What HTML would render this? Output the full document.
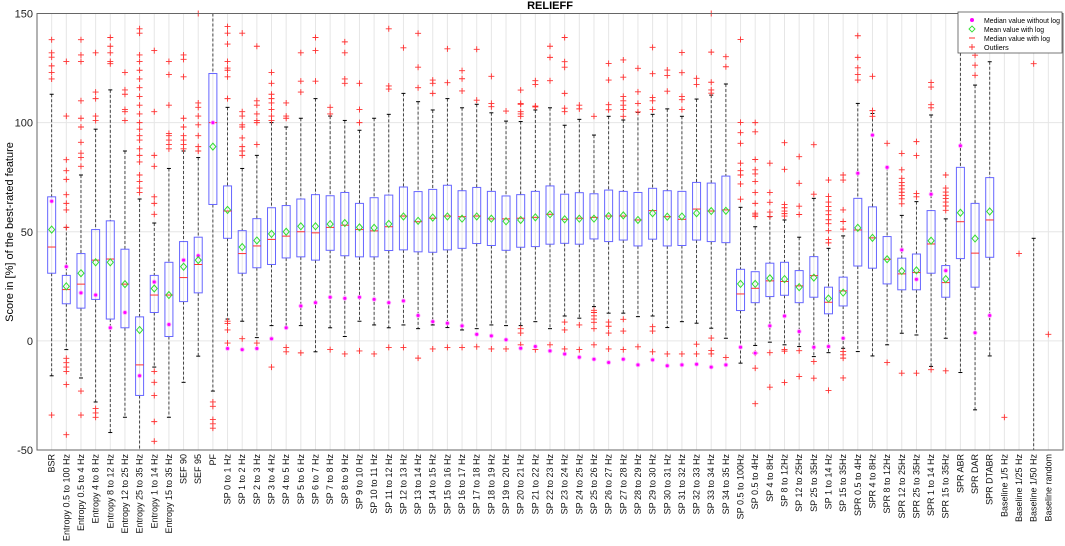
<!DOCTYPE html>
<html><head><meta charset="utf-8"><style>
body{margin:0;background:#fff;}
svg{display:block;font-family:"Liberation Sans",Arial,sans-serif;}
</style></head><body>
<svg id="chart" width="1065" height="546" viewBox="0 0 1065 546" xmlns="http://www.w3.org/2000/svg">
<text x="550" y="9" font-size="11" font-weight="bold" text-anchor="middle">RELIEFF</text>
<text transform="translate(13,232) rotate(-90)" font-size="11" text-anchor="middle">Score in [%] of the best-rated feature</text>
<g id="grid"></g><g id="marks"></g><g id="axes"></g>
<g>
<rect x="958" y="12" width="104" height="41" fill="#fff" stroke="#555" stroke-width="0.8"/>
<circle cx="972" cy="20" r="2" fill="#ff00ff"/>
<text x="984" y="23" font-size="7.2" textLength="76" lengthAdjust="spacingAndGlyphs">Median value without log</text>
<path d="M972 26 L975 29 L972 32 L969 29 Z" fill="none" stroke="#33dd33" stroke-width="0.9"/>
<text x="984" y="32" font-size="7.2" textLength="60" lengthAdjust="spacingAndGlyphs">Mean value with log</text>
<line x1="969" y1="38" x2="975" y2="38" stroke="#ff3030" stroke-width="1"/>
<text x="984" y="41" font-size="7.2" textLength="66" lengthAdjust="spacingAndGlyphs">Median value with log</text>
<path d="M969 47 h6 M972 44 v6" stroke="#ff3030" stroke-width="0.9"/>
<text x="984" y="50" font-size="7.2">Outliers</text>
</g>
</svg>
<script>
const categories=["BSR","Entropy 0.5 to 100 Hz","Entropy 0.5 to 4 Hz","Entropy 4 to 8 Hz","Entropy 8 to 12 Hz","Entropy 12 to 25 Hz","Entropy 25 to 35 Hz","Entropy 1 to 14 Hz","Entropy 15 to 35 Hz","SEF 90","SEF 95","PF","SP 0 to 1 Hz","SP 1 to 2 Hz","SP 2 to 3 Hz","SP 3 to 4 Hz","SP 4 to 5 Hz","SP 5 to 6 Hz","SP 6 to 7 Hz","SP 7 to 8 Hz","SP 8 to 9 Hz","SP 9 to 10 Hz","SP 10 to 11 Hz","SP 11 to 12 Hz","SP 12 to 13 Hz","SP 13 to 14 Hz","SP 14 to 15 Hz","SP 15 to 16 Hz","SP 16 to 17 Hz","SP 17 to 18 Hz","SP 18 to 19 Hz","SP 19 to 20 Hz","SP 20 to 21 Hz","SP 21 to 22 Hz","SP 22 to 23 Hz","SP 23 to 24 Hz","SP 24 to 25 Hz","SP 25 to 26 Hz","SP 26 to 27 Hz","SP 27 to 28 Hz","SP 28 to 29 Hz","SP 29 to 30 Hz","SP 30 to 31 Hz","SP 31 to 32 Hz","SP 32 to 33 Hz","SP 33 to 34 Hz","SP 34 to 35 Hz","SP 0.5 to 100Hz","SP 0.5 to 4Hz","SP 4 to 8Hz","SP 8 to 12Hz","SP 12 to 25Hz","SP 25 to 35Hz","SP 1 to 14 Hz","SP 15 to 35Hz","SPR 0.5 to 4Hz","SPR 4 to 8Hz","SPR 8 to 12Hz","SPR 12 to 25Hz","SPR 25 to 35Hz","SPR 1 to 14 Hz","SPR 15 to 35Hz","SPR ABR","SPR DAR","SPR DTABR","Baseline 1/5 Hz","Baseline 1/25 Hz","Baseline 1/50 Hz","Baseline random"];
const q1=[31,17,15,19,10,6,-25,13,2,18,22,62.5,47,31,33.5,35,38,38.5,37,41.5,39,38.5,38.5,41.4,41.7,40.8,40.6,41.7,42.4,44.6,43.7,41.5,42.9,43.2,44.3,44.7,44.3,46.7,45.5,46.2,43.5,46.6,43.5,43.7,46.2,45.5,45,13.9,17.5,20.3,20.9,17.5,20,12.4,16,34.3,33.3,26.1,23.4,23.4,31,20,37.7,24.6,38.3,null,null,null,null];
const med=[43,23.5,26,37,37.5,26,-11,21,21,29,35,100,59.5,40,43.5,46.5,48,50,49.5,52,53,51,50.4,52.3,57.2,54.6,56.2,57.2,56.9,57.2,55.9,55.9,56.2,56.6,58,55.7,56.2,56.6,57.2,57.2,55.4,59.7,56.9,55.7,60.4,59.5,60,21.5,24.1,27.5,27.2,25.2,29.9,17.7,22.9,50.8,47.2,37.4,30.7,31.3,44.4,26.7,54.6,40.2,55.4,null,null,null,null];
const q3=[66,30,40,51,55,42,11,30,36,45.5,47.5,122.5,71,50.5,56,61,62,65,67,66.5,68,63,65.6,66.8,70.5,68.4,69.4,71.3,68.8,70.3,68.5,66.4,67,68.5,71,67.2,67.9,67.4,69.1,68.5,68,69.9,68.8,68.5,72.6,72.3,75.5,32.8,31.7,35.6,36,32.2,38.6,24.6,29.2,65.3,61.4,47.8,37.9,39.8,59.7,34.5,79.5,63,74.8,null,null,null,null];
const whiskerLow=[-16,-4,-17,-28,-42,-35,-50,-12,-35,-19,-7,-23,10,9,1.5,7,6,7,-5,6,2,9,7.3,6,7.3,5.6,7.3,6.1,5,5.6,7.3,7,7,8.8,5.6,11.4,10.4,15.7,12.7,12.7,11.1,11.4,6.1,8.8,8.1,5.8,1.2,-10.2,-2.1,-0.6,-1.8,-2.6,-7.2,-5.4,-3.4,-4.9,-6.9,-1.8,3.5,2.7,-11.7,1.2,-14.5,-31.6,-6.9,null,null,-50,null];
const whiskerHigh=[113,52,76,97,115,87,65,54,79,87,84,150,107,79,85,100,98,102,111,103,101,96.5,102,103.8,113.4,109.6,105.8,111,106.8,108.4,104.5,100.7,100.5,105.8,106.8,98.8,101.5,94.3,102.9,101.2,104.7,103.8,106.3,102.9,110.8,112.6,117.7,61.2,52.3,56.9,55.4,47.5,65.3,42.4,48.1,108.8,104.2,79.5,57.5,63.8,103.5,55.9,148,117.2,127.9,null,null,47,null];
const meanLog=[51,25,31,36,36,26,5,24,21,34,37,89,60,43,46,49,50,52.5,52.5,53.5,54,52,51.8,53.6,57,55,56.5,57,56,57,56,54.8,55.4,56.6,58,55.7,56,56,57.2,57.5,55.4,58.5,56.9,57,58.5,59.5,59.6,26.1,26.1,28.7,28.3,24.6,29,19.4,22.1,51.8,47.2,37.4,32,32.3,45.9,28.3,58.7,46.9,59.3,null,null,null,null];
const medianNoLog=[64,34,22,21,6,13,-16,27,7.5,37,39,100,-3.5,-4,-3.5,1,6,16,17.5,20,19.5,20,19,17.5,18.3,11.6,8.8,8.1,6.9,3,2.3,0.5,-3.4,-2.6,-4.6,-6,-7.5,-8.4,-9.9,-8.4,-11,-8.7,-11.4,-11,-10.7,-12,-11,-2.9,-5.6,6.9,11.4,4.3,-2.9,-2.6,1.2,76.8,94.3,79.5,41.7,28.2,67.2,32.2,89.4,3.7,11.6,null,null,null,null];
const outliers=[[138,132,130,126,123,120,-34],[128,103,83,78,74,67,63,60,52,-8,-10,-12,-14,-20,-43],[138,131,128,110,102,98,91,86,84,80,-23,-34],[132,114,111,103,101,-31,-33,-35],[139,135,132,128,127],[123,115,113,106,105,101],[143,141,131,128,124,120,116,112,108,104,100,97,94,92,88,85,82,76,73,70,68],[133,105,85,80,66,63,58,-14,-19,-25,-37,-46],[128,122,108,95,94,92,90,88],[131,129,121,102,98,94,92,90,88],[150,109,107,103,99,94,89,87],[-28,-30,-36,-38,-40],[144,141,136,128,125,124,121,111,9,8,5,-1],[141,105,103,99,98,93,89,87,85,1],[135,110,108,104,101,100,90,-1],[123,118,113,111,109,106,103,101,-12],[109,103,102,-3,-5],[132,119,114,-5.5],[139,133,119],[107,104,-4],[137,132,120,118,-6],[118,106,100,-4.6],[-6],[143,116.8,115.4,-3],[134.3,-3],[140.9,125.4,116,-7.9],[119.5,118,113.4,-3.7],[133.8,118.3,-3],[123.8,120.1,114.5,-3],[133.6,110.3,-2.7],[121.2,108.8,107.3,-3.7],[105.3,-3.7],[114.9,108.8,108.4,105,104,102.9,5.6,3.6,-1.8],[119.2,117.5,107.6,107.2,-4],[135,129.9,119.2,-1.8],[139,127.9,125.4,113.4,106.6,105,8.6,5,-3.7],[108,106.3,7.3,-4],[102.9,14,13,11.5,10,8.5,5.6,-1.8],[127.1,119.5,108.2,105.9,8.6,6.7,3.6,-3.7],[128.7,120.8,112,110,108,106,102.9,9.9,4.5,-4],[124.9,114.1,108.8,104.9,-2.7],[134.5,122.4,111.5,110,106,6.5,4.5,-5],[124.1,121.6,114.4,-6],[132.1,122.9,112,110.5,106,-6],[120.3,117.5,-1.5,-6],[150,132.3,118.5,115,113.5,1.3,-4.4,-6],[130.2,125.6,-7.6],[138.1,100.1,95.4,90.5,81.4,78,76,71.9,64.9],[100,95.8,83.1,78.4,76.5,73,68,63,58.5,57.7,57,-5.6,-12.5,-28.8],[81.4,68,63.5,59,57,-5.4,-21.2],[90.8,78.6,62.5,61,59.5,58.3,57.2,-4,-4.7,-19.1],[84.4,72.2,61.7,57.9,-4.5,-16.3],[89.9,67.2,-9.5,-17.1],[73.7,66.2,63.6,61.6,59.6,57.8,55.5,53.7,50.5,46.4,44.9,-22.7],[76,73.7,60,54.7,51.2,-4.9,-6.4,-7.9,-17],[139.8,129.9,125.1,122.1,119.5],[121.2,105.5,102.9],[90.5,-9.9],[85.9,78.4,74.5,72.6,71.1,69.6,68.1,66.6,65.1,62.8,-14.8],[91.3,84.9,67.5,66,-14.8],[118.4,116.3,108.2,106.8,-13.2],[76,70,68.2,66.7,65.2,63.6,61.8,59.8,-13.7],[],[135,130.9,126.3,121.7],[],[-35],[40],[127],[3]];
const yTicks=[150,100,50,0,-50];

const NS="http://www.w3.org/2000/svg";
const L=37,R=1063,T=13.5,B=450,YMIN=-50,YMAX=150;
const n=categories.length;
const step=(R-L)/(n+1);
function xs(i){return L+(i+1)*step;}
function ys(v){return B-(v-YMIN)/(YMAX-YMIN)*(B-T);}
function mk(tag,attrs,parent){const e=document.createElementNS(NS,tag);for(const k in attrs)e.setAttribute(k,attrs[k]);parent.appendChild(e);return e;}
const grid=document.getElementById('grid'),marks=document.getElementById('marks'),axes=document.getElementById('axes');

for(let i=0;i<n;i++){
  const g=mk('line',{x1:xs(i),x2:xs(i),y1:T,y2:B,stroke:'#e6e6e6','stroke-width':1},grid);
  
  
}
yTicks.forEach(t=>{
  const g=mk('line',{x1:L,x2:R,y1:ys(t),y2:ys(t),stroke:'#e6e6e6','stroke-width':1},grid);
  
  
  const tx=mk('text',{x:L-4,y:ys(t)+4,'font-size':11,'text-anchor':'end',fill:'#222'},axes);
  tx.textContent=t;
  
  
});
const frame=mk('rect',{x:L,y:T,width:R-L,height:B-T,fill:'none',stroke:'#666','stroke-width':1},axes);



const hw=4;
for(let i=0;i<n;i++){
  const x=xs(i);
  const g=mk('g',{},marks);
  
  
  const lab=mk('text',{transform:`translate(${x+3},454) rotate(-90)`,'font-size':9,'text-anchor':'end',fill:'#111'},axes);
  lab.textContent=categories[i];
  
  
  const lo=whiskerLow[i],hi=whiskerHigh[i],a=q1[i],b=q3[i];
  if(hi!==null){
    const top=(b!==null)?b:lo;
    const w=mk('line',{x1:x,x2:x,y1:ys(hi),y2:ys(top),stroke:'#333','stroke-width':0.9,'stroke-dasharray':'3,2'},g);
    
    
    mk('line',{x1:x-2,x2:x+2,y1:ys(hi),y2:ys(hi),stroke:'#000','stroke-width':1},g);
  }
  if(lo!==null&&a!==null){
    const w=mk('line',{x1:x,x2:x,y1:ys(a),y2:ys(lo),stroke:'#333','stroke-width':0.9,'stroke-dasharray':'3,2'},g);
    
    
    mk('line',{x1:x-2,x2:x+2,y1:ys(lo),y2:ys(lo),stroke:'#000','stroke-width':1},g);
  }
  if(a!==null){
    const r=mk('rect',{x:x-hw,y:ys(b),width:2*hw,height:ys(a)-ys(b),fill:'none',stroke:'#6666ff','stroke-width':1},g);
    
    
    const m=mk('line',{x1:x-hw,x2:x+hw,y1:ys(med[i]),y2:ys(med[i]),stroke:'#ff3030','stroke-width':1},g);
    
    
  }
  outliers[i].forEach(v=>{
    const y=ys(v);
    const o=mk('path',{d:`M${x-3} ${y} h6 M${x} ${y-3} v6`,stroke:'#ff3030','stroke-width':0.9},g);
    
    
  });
  if(medianNoLog[i]!==null){
    const y=ys(medianNoLog[i]);
    mk('circle',{cx:x,cy:y,r:2.4,fill:'#ffaaff'},g);
    const c=mk('circle',{cx:x,cy:y,r:1.5,fill:'#ff00ff'},g);
    
    
  }
  if(meanLog[i]!==null){
    const y=ys(meanLog[i]);
    const d=mk('path',{d:`M${x} ${y-3.5} L${x+3} ${y} L${x} ${y+3.5} L${x-3} ${y} Z`,fill:'none',stroke:'#33dd33','stroke-width':1},g);
    
    
  }
}
</script>
</body></html>
